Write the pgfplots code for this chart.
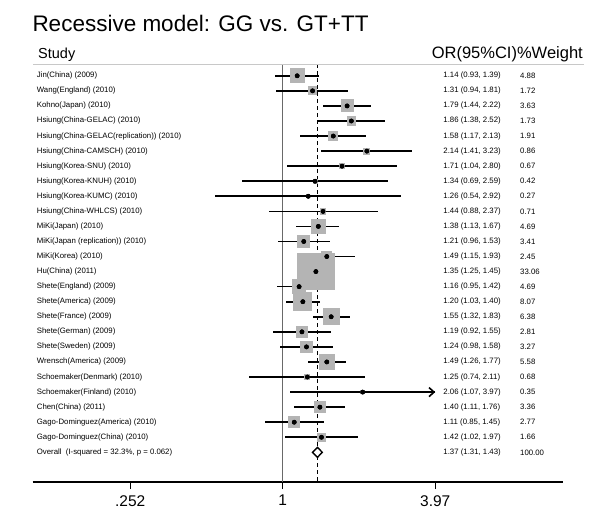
\documentclass[border=0pt]{standalone}
\usepackage{fontspec}
\setmainfont{Liberation Sans}
\usepackage{pgfplots}
\pgfplotsset{compat=1.18}
\usepackage{pgfplotstable}
\usetikzlibrary{arrows.meta}
\definecolor{boxgray}{RGB}{180,180,180}
\definecolor{refgray}{RGB}{105,105,105}
\definecolor{hdrgray}{RGB}{200,200,200}

\pgfplotstableread[col sep=semicolon]{
row;or;lo;hi;w;study
1;1.14;0.93;1.39;4.88;Jin(China) (2009)
2;1.31;0.94;1.81;1.72;Wang(England) (2010)
3;1.79;1.44;2.22;3.63;Kohno(Japan) (2010)
4;1.86;1.38;2.52;1.73;Hsiung(China-GELAC) (2010)
5;1.58;1.17;2.13;1.91;Hsiung(China-GELAC(replication)) (2010)
6;2.14;1.41;3.23;0.86;Hsiung(China-CAMSCH) (2010)
7;1.71;1.04;2.80;0.67;Hsiung(Korea-SNU) (2010)
8;1.34;0.69;2.59;0.42;Hsiung(Korea-KNUH) (2010)
9;1.26;0.54;2.92;0.27;Hsiung(Korea-KUMC) (2010)
10;1.44;0.88;2.37;0.71;Hsiung(China-WHLCS) (2010)
11;1.38;1.13;1.67;4.69;MiKi(Japan) (2010)
12;1.21;0.96;1.53;3.41;MiKi(Japan (replication)) (2010)
13;1.49;1.15;1.93;2.45;MiKi(Korea) (2010)
14;1.35;1.25;1.45;33.06;Hu(China) (2011)
15;1.16;0.95;1.42;4.69;Shete(England) (2009)
16;1.20;1.03;1.40;8.07;Shete(America) (2009)
17;1.55;1.32;1.83;6.38;Shete(France) (2009)
18;1.19;0.92;1.55;2.81;Shete(German) (2009)
19;1.24;0.98;1.58;3.27;Shete(Sweden) (2009)
20;1.49;1.26;1.77;5.58;Wrensch(America) (2009)
21;1.25;0.74;2.11;0.68;Schoemaker(Denmark) (2010)
22;2.06;1.07;3.97;0.35;Schoemaker(Finland) (2010)
23;1.40;1.11;1.76;3.36;Chen(China) (2011)
24;1.11;0.85;1.45;2.77;Gago-Dominguez(America) (2010)
25;1.42;1.02;1.97;1.66;Gago-Dominguez(China) (2010)
}\studies

\newcommand{\smallfont}{\fontsize{7.8}{9}\selectfont}
\newcommand{\pn}[1]{\pgfmathprintnumber[fixed,fixed zerofill,precision=2,assume math mode=true]{#1}}

\begin{document}
\begin{tikzpicture}
\useasboundingbox (-32.7pt,-40pt) rectangle (567.3pt,482pt);
\begin{axis}[
  scale only axis, width=530pt, height=417.7pt,
  xmode=log, log basis x=10,
  xmin=0.10443, xmax=12.561,
  ymin=-27.97, ymax=-0.2364,
  axis x line*=bottom, axis y line=none,
  x axis line style={line width=1.2pt, black},
  xtick={0.252,1,3.97}, xticklabels={.252,1,3.97},
  tick align=outside, major tick length=7pt,
  xtick style={line width=1pt, black},
  xticklabel style={font=\fontsize{15.5}{18}\selectfont, inner sep=0pt, anchor=north, yshift=-6pt},
  minor xtick={},
  clip=false,
]
% reference line at 1 and dashed overall line
\addplot[refgray, line width=1.6pt] coordinates {(1,-0.2364) (1,-27.97)};
\addplot[black, line width=0.8pt, dash pattern=on 4pt off 3pt] coordinates {(1.37,-0.2364) (1.37,-27.97)};
% weight boxes
\addplot[scatter, only marks, mark=square*,
  mark options={draw=boxgray, fill=boxgray, line width=0pt},
  scatter/use mapped color={draw=boxgray, fill=boxgray},
  visualization depends on={3.157*sqrt(\thisrow{w})\as\msz},
  scatter/@pre marker code/.append style={/tikz/mark size=\msz pt}]
  table[x=or, y expr=-\thisrow{row}]{\studies};
% confidence intervals
\addplot[only marks, mark=none,
  error bars/.cd, x dir=both, x explicit, error mark=none,
  error bar style={line width=1.6pt, black}]
  table[x=or, y expr=-\thisrow{row},
        x error plus expr=\thisrow{hi}-\thisrow{or},
        x error minus expr=\thisrow{or}-\thisrow{lo}]{\studies};
\addplot[black, line width=1.6pt, -{Straight Barb[length=5pt, width=9pt]}] coordinates {(1.07,-22) (3.97,-22)};
% point estimates
\addplot[only marks, mark=*, mark size=2.2pt, black] table[x=or, y expr=-\thisrow{row}]{\studies};
% overall diamond
\addplot[black, line width=1.4pt, fill=white] coordinates {(1.31,-26) (1.37,-25.67) (1.43,-26) (1.37,-26.33)} -- cycle;
% text columns
\addplot[draw=none, mark=none, point meta=explicit symbolic,
  nodes near coords,
  nodes near coords style={anchor=west, inner sep=0pt, font=\smallfont, black}]
  table[x expr=0.10828, y expr=-\thisrow{row}, meta=study]{\studies};
\addplot[draw=none, mark=none,
  visualization depends on={\thisrow{or}\as\vor},
  visualization depends on={\thisrow{lo}\as\vlo},
  visualization depends on={\thisrow{hi}\as\vhi},
  nodes near coords={\pn{\vor} (\pn{\vlo}, \pn{\vhi})},
  nodes near coords style={anchor=west, inner sep=0pt, font=\smallfont, black}]
  table[x expr=4.2688, y expr=-\thisrow{row}]{\studies};
\addplot[draw=none, mark=none,
  visualization depends on={\thisrow{w}\as\vw},
  nodes near coords={\pn{\vw}},
  nodes near coords style={anchor=west, inner sep=0pt, font=\smallfont, black}]
  table[x expr=8.538, y expr=-\thisrow{row}]{\studies};
\node[anchor=west, inner sep=0pt, font=\smallfont] at (axis cs:0.10828,-26) {Overall\ \ (I-squared = 32.3\%, p = 0.062)};
\node[anchor=west, inner sep=0pt, font=\smallfont] at (axis cs:4.2688,-26) {1.37 (1.31, 1.43)};
\node[anchor=west, inner sep=0pt, font=\smallfont] at (axis cs:8.538,-26) {100.00};
\end{axis}
% header line and titles
\draw[hdrgray, line width=1.5pt] (0.6pt,417.7pt) -- (551.3pt,417.7pt);
\node[anchor=base west, inner sep=0pt, font=\fontsize{22.5}{27}\selectfont] at (-0.4pt,450.3pt) {Recessive model: GG vs. GT+TT};
\node[anchor=base west, inner sep=0pt, font=\fontsize{14.5}{17}\selectfont] at (5.3pt,423pt) {Study};
\node[anchor=base east, inner sep=0pt, font=\fontsize{16.5}{19}\selectfont] at (550.3pt,423pt) {OR(95\%CI)\%Weight};
\end{tikzpicture}
\end{document}
